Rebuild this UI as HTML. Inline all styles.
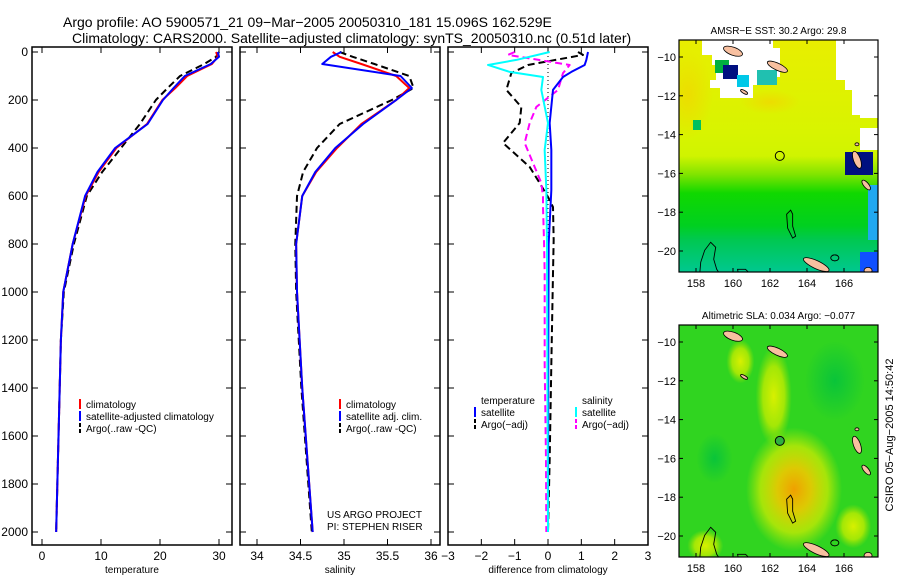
<!DOCTYPE html>
<html><head><meta charset="utf-8">
<style>
body{margin:0;background:#fff;}
svg{display:block;font-family:"Liberation Sans",sans-serif;}
</style></head>
<body>
<svg id="chart" width="900" height="580" viewBox="0 0 900 580">
<text x="63" y="27" font-size="14">Argo profile: AO 5900571_21 09−Mar−2005 20050310_181 15.096S 162.529E</text>
<text x="72" y="43" font-size="14">Climatology: CARS2000. Satellite−adjusted climatology: synTS_20050310.nc (0.51d later)</text>
<g id="p1"></g>
<g id="p2"></g>
<g id="p3"></g>
<g id="m1"></g>
<g id="m2"></g>
<text transform="translate(893,435) rotate(-90)" text-anchor="middle" font-size="11">CSIRO 05−Aug−2005 14:50:42</text>
</svg>
<script>
// ---- data ----
const depthLevels=[0,20,50,100,150,200,300,400,500,600,800,1000,1200,1400,1600,1800,2000];
const tempClim=[29.5,29.8,28.8,24.6,22.6,20.4,17.8,12.6,9.6,7.4,5.2,3.6,3.2,3.0,2.8,2.6,2.4];
const tempSat=[29.8,30.0,28.6,24.2,22.3,20.5,17.9,12.4,9.4,7.3,5.2,3.6,3.2,3.0,2.8,2.6,2.4];
const tempArgo=[30.0,29.5,27.5,23.4,21.3,19.3,16.6,13.4,10.2,7.6,5.4,3.7,3.2,3.0,2.8,2.6,2.4];
const salClim=[34.87,34.95,35.2,35.6,35.75,35.6,35.2,34.92,34.68,34.52,34.45,34.46,34.49,34.52,34.56,34.6,34.64];
const salSat=[34.97,34.85,34.75,35.65,35.78,35.6,35.22,34.9,34.67,34.52,34.45,34.46,34.49,34.52,34.56,34.6,34.64];
const salArgo=[34.95,35.1,35.35,35.75,35.8,35.55,34.95,34.69,34.53,34.46,34.44,34.45,34.48,34.51,34.55,34.59,34.63];
const dDepthT=[0,12,54,88,158,229,296,379,479,546,604,646,783,921,1300,1700,2000];
const dTempArgo=[0.9,1.05,-0.6,-1.1,-1.25,-0.8,-0.85,-1.35,-0.55,-0.25,0,0.15,0.17,0.15,0.1,0.05,0.0];
const dSalArgo=[-1.0,-1.2,0.65,0.45,0.3,-0.35,-0.55,-0.7,-0.4,-0.2,-0.15,-0.15,-0.12,-0.1,-0.1,-0.06,-0.05];
const dDepthS=[0,33,54,83,104,158,296,408,575,800,1200,2000];
const dSalSat=[0.05,-0.95,-1.8,-1.15,-0.15,-0.2,0,-0.1,-0.05,-0.03,-0.02,0];
const dTempSat=[1.2,1.15,1.1,0.7,0.45,0.15,0.05,0.1,0.1,0.02,0.01,0];
const depthTicks=[0,200,400,600,800,1000,1200,1400,1600,1800,2000];
const tempTicks=[0,10,20,30];
const salTicks=[34,34.5,35,35.5,36];
const diffTicks=[-3,-2,-1,0,1,2,3];
const latTicks=[-10,-12,-14,-16,-18,-20];
const lonTicks=[158,160,162,164,166];
const argoLon=162.529, argoLat=-15.096;

const NS="http://www.w3.org/2000/svg";
function mk(parent,tag,attrs){const e=document.createElementNS(NS,tag);for(const k in attrs)e.setAttribute(k,attrs[k]);parent.appendChild(e);return e;}
const Y=d=>52+d*0.24;
function panel(g,x0,x1,xa,xb,xmin,xmax,ticks,label,showDepth){
  const X=v=>xa+(v-xmin)/(xmax-xmin)*(xb-xa);
  const r=mk(g,'rect',{x:x0,y:47,width:x1-x0,height:498,fill:'none',stroke:'#000','stroke-width':1.5});
  
  
  depthTicks.forEach(d=>{
    mk(g,'line',{x1:x0,x2:x0+6,y1:Y(d),y2:Y(d),stroke:'#000'});
    mk(g,'line',{x1:x1-6,x2:x1,y1:Y(d),y2:Y(d),stroke:'#000'});
    if(showDepth){const t=mk(g,'text',{x:x0-4,y:Y(d)+4,'text-anchor':'end','font-size':12});t.textContent=d;
      }
  });
  ticks.forEach(v=>{
    mk(g,'line',{x1:X(v),x2:X(v),y1:545,y2:539,stroke:'#000'});
    mk(g,'line',{x1:X(v),x2:X(v),y1:47,y2:53,stroke:'#000'});
    const t=mk(g,'text',{x:X(v),y:560,'text-anchor':'middle','font-size':12});t.textContent=String(v).replace('-','−');
    
  });
  const t=mk(g,'text',{x:(x0+x1)/2,y:573,'text-anchor':'middle','font-size':10});t.textContent=label;
  
  return X;
}
function line(g,X,vals,depths,color,dash,name,w){
  const p=mk(g,'polyline',{points:vals.map((v,i)=>X(v)+','+Y(depths[i])).join(' '),fill:'none',stroke:color,'stroke-width':w||2,'stroke-linejoin':'round'});
  if(dash)p.setAttribute('stroke-dasharray',dash);
  
  
}
function legend(g,x,y,items){
  items.forEach((it,i)=>{
    const yy=y+i*12;
    const l=mk(g,'line',{x1:x,x2:x,y1:yy-9,y2:yy+1,stroke:it[1],'stroke-width':2});
    if(it[2])l.setAttribute('stroke-dasharray','4,2');
    const t=mk(g,'text',{x:x+6,y:yy,'font-size':10});t.textContent=it[0];
    
  });
}
const p1=document.getElementById('p1'),p2=document.getElementById('p2'),p3=document.getElementById('p3');
let X1=panel(p1,32,232,42,219,0,30,tempTicks,'temperature',true);
line(p1,X1,tempArgo,depthLevels,'#000','7,4','temp-argo-line');
line(p1,X1,tempClim,depthLevels,'#f00',null,'temp-climatology-line');
line(p1,X1,tempSat,depthLevels,'#00f',null,'temp-satellite-line');
legend(p1,80,408,[['climatology','#f00'],['satellite-adjusted climatology','#00f'],['Argo(..raw -QC)','#000',1]]);
let X2=panel(p2,240,440,257,431,34,36,salTicks,'salinity',false);
line(p2,X2,salArgo,depthLevels,'#000','7,4','sal-argo-line');
line(p2,X2,salClim,depthLevels,'#f00',null,'sal-climatology-line');
line(p2,X2,salSat,depthLevels,'#00f',null,'sal-satellite-line');
legend(p2,340,408,[['climatology','#f00'],['satellite adj. clim.','#00f'],['Argo(..raw -QC)','#000',1]]);
let t=mk(p2,'text',{x:327,y:518,'font-size':10});t.textContent='US ARGO PROJECT';

t=mk(p2,'text',{x:327,y:530,'font-size':10});t.textContent='PI: STEPHEN RISER';

let X3=panel(p3,448,648,448,648,-3,3,diffTicks,'difference from climatology',false);
mk(p3,'line',{x1:X3(0),x2:X3(0),y1:52,y2:532,stroke:'#000','stroke-dasharray':'1,3'});
line(p3,X3,dTempArgo,dDepthT,'#000','7,4','diff-temp-argo-line');
line(p3,X3,dSalArgo,dDepthT,'#f0f','7,4','diff-sal-argo-line');
line(p3,X3,dTempSat,dDepthS,'#00f',null,'diff-temp-satellite-line');
line(p3,X3,dSalSat,dDepthS,'#0ff',null,'diff-sal-satellite-line');
legend(p3,475,404,[['temperature','none'],['satellite','#00f'],['Argo(−adj)','#000',1]]);
legend(p3,576,404,[['salinity','none'],['satellite','#0ff'],['Argo(−adj)','#f0f',1]]);

function map(g,y0,title,kind){
  const x0=679,w=199,h=232;
  const LX=lon=>696+(lon-158)*18.5, LY=lat=>y0+17+(-10-lat)*19.4;
  const defs=mk(g,'defs',{});
  const cp=mk(defs,'clipPath',{id:'clip'+kind});mk(cp,'rect',{x:x0,y:y0,width:w,height:h});
  const inner=mk(g,'g',{'clip-path':'url(#clip'+kind+')'});
  if(kind==1){
    const lg=mk(defs,'linearGradient',{id:'g1',x1:0,y1:0,x2:0,y2:1});
    [[0,'#e8ee00'],[0.4,'#d8f400'],[0.5,'#d0f400'],[0.58,'#80e400'],[0.66,'#10d800'],[0.8,'#00d020'],[0.86,'#00c850'],[1,'#00c890']].forEach(s=>mk(lg,'stop',{offset:s[0],'stop-color':s[1]}));
    const bg=mk(inner,'rect',{x:x0,y:y0,width:w,height:h,fill:'url(#g1)'});
    
    const rg=mk(defs,'radialGradient',{id:'g1o'});
    mk(rg,'stop',{offset:0,'stop-color':'#f0d800','stop-opacity':0.8});mk(rg,'stop',{offset:1,'stop-color':'#f0d800','stop-opacity':0});
    mk(inner,'ellipse',{cx:688,cy:95,rx:25,ry:45,fill:'url(#g1o)'});
    mk(inner,'ellipse',{cx:770,cy:102,rx:30,ry:12,fill:'url(#g1o)'});
    mk(inner,'path',{d:'M702 40 H773 V48 H780 V77 H770 V85 H753 V98 H720 V88 H710 V80 H716 V65 H712 V55 H702Z',fill:'#fff'});
    mk(inner,'path',{d:'M836 40 H878 V118 H860 V115 H852 V90 H845 V80 H836Z',fill:'#fff'});
    mk(inner,'path',{d:'M860 128 H878 V150 H860Z',fill:'#fff'});
    mk(inner,'rect',{x:715,y:60,width:14,height:13,fill:'#00b040'});
    mk(inner,'rect',{x:723,y:65,width:15,height:14,fill:'#001080'});
    mk(inner,'rect',{x:737,y:75,width:12,height:12,fill:'#00c8e8'});
    mk(inner,'rect',{x:757,y:70,width:20,height:15,fill:'#20c0b0'});
    mk(inner,'rect',{x:845,y:152,width:28,height:23,fill:'#001080'});
    mk(inner,'rect',{x:868,y:185,width:10,height:55,fill:'#20a8f0'});
    mk(inner,'rect',{x:860,y:252,width:18,height:20,fill:'#1050ff'});
    mk(inner,'rect',{x:693,y:120,width:8,height:10,fill:'#00c060'});
  }else{
    const bg=mk(inner,'rect',{x:x0,y:y0,width:w,height:h,fill:'#30d420'});
    
    const mkRG=(id,stops)=>{const r=mk(defs,'radialGradient',{id:id});stops.forEach(s=>mk(r,'stop',{offset:s[0],'stop-color':s[1],'stop-opacity':s[2]}));};
    mkRG('y2',[[0,'#d8f000',1],[0.6,'#c0ec00',0.8],[1,'#a0e400',0]]);
    mkRG('o2',[[0,'#f0a000',1],[0.35,'#f0c800',0.9],[0.7,'#d8ec00',0.7],[1,'#c0ea00',0]]);
    mkRG('d2',[[0,'#00c040',0.8],[1,'#00c040',0]]);
    mk(inner,'ellipse',{cx:LX(163.3),cy:LY(-17.6),rx:48,ry:62,fill:'url(#o2)'});
    mk(inner,'ellipse',{cx:LX(162.2),cy:LY(-12.8),rx:18,ry:50,fill:'url(#y2)'});
    mk(inner,'ellipse',{cx:LX(160.4),cy:LY(-11),rx:14,ry:22,fill:'url(#y2)'});
    mk(inner,'ellipse',{cx:LX(158.5),cy:LY(-20.5),rx:18,ry:16,fill:'url(#y2)'});
    mk(inner,'ellipse',{cx:LX(166.5),cy:LY(-19.5),rx:18,ry:22,fill:'url(#y2)'});
    mk(inner,'ellipse',{cx:LX(159),cy:LY(-16),rx:18,ry:25,fill:'url(#d2)'});
    mk(inner,'ellipse',{cx:LX(165.5),cy:LY(-12),rx:30,ry:40,fill:'url(#d2)'});
  }
  [[160,-9.7,10,4,20],[162.4,-10.5,11,3.5,25],[160.6,-11.8,4,1.5,30],[166.7,-15.3,3.5,9,-20],[167.2,-16.6,2.5,6,-40],[164.5,-20.7,14,4,25],[167.3,-21,4,3,0],[166.7,-14.5,2,1.5,0]].forEach(b=>{
    const e=mk(inner,'ellipse',{cx:0,cy:0,rx:b[2],ry:b[3],fill:'#f8c0a0',stroke:'#000','stroke-width':0.8,transform:`translate(${LX(b[0])},${LY(b[1])}) rotate(${b[4]})`});
    
  });
  const coast=mk(inner,'path',{d:`M${LX(158.2)} ${LY(-21.2)} l1 -12 l4 -12 l6 -8 l5 5 l-2 12 l3 10 l4 6 M${LX(160.3)} ${LY(-21.2)} l-1 -5 l8 0 l6 6 l-4 2 l-2 -4 l-4 1 M${LX(162.9)} ${LY(-18.1)} l4 -4 l2 4 l0 12 l3 10 l-3 2 l-5 -10 z M${LX(165.5)} ${LY(-20.2)} a4 3 0 1 0 0.1 0`,fill:'none',stroke:'#000','stroke-width':0.9});
  
  const c=mk(g,'circle',{cx:LX(argoLon),cy:LY(argoLat),r:4.5,fill:kind==1?'none':'#30b040',stroke:'#000'});
  
  const f=mk(g,'rect',{x:x0,y:y0,width:w,height:h,fill:'none',stroke:'#000','stroke-width':1.2});
  
  latTicks.forEach(l=>{mk(g,'line',{x1:x0,x2:x0+4,y1:LY(l),y2:LY(l),stroke:'#000'});mk(g,'line',{x1:x0+w-4,x2:x0+w,y1:LY(l),y2:LY(l),stroke:'#000'});
    const t=mk(g,'text',{x:x0-3,y:LY(l)+4,'text-anchor':'end','font-size':11});t.textContent='−'+(-l);
    });
  lonTicks.forEach(l=>{mk(g,'line',{x1:LX(l),x2:LX(l),y1:y0+h,y2:y0+h-4,stroke:'#000'});mk(g,'line',{x1:LX(l),x2:LX(l),y1:y0,y2:y0+4,stroke:'#000'});
    const t=mk(g,'text',{x:LX(l),y:y0+h+15,'text-anchor':'middle','font-size':11});t.textContent=l;
    });
  const tt=mk(g,'text',{x:x0+w/2,y:y0-6,'text-anchor':'middle','font-size':10});tt.textContent=title;
  
}
map(document.getElementById('m1'),40,'AMSR−E SST: 30.2 Argo: 29.8',1);
map(document.getElementById('m2'),325,'Altimetric SLA: 0.034 Argo: −0.077',2);
</script>
</body></html>
